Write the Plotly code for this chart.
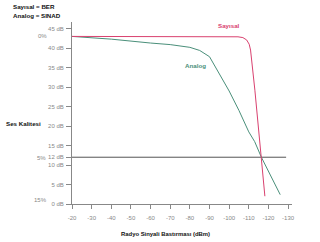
import plotly.graph_objects as go

# Data
x_ticks = [-20, -30, -40, -50, -60, -70, -80, -90, -100, -110, -120, -130]
x_tick_text = [str(v) for v in x_ticks]
y_ticks = [0, 5, 10, 12, 15, 20, 25, 30, 35, 40, 45]
y_tick_text = [f"{v} dB" for v in y_ticks]

sayisal_x = [-20, -104.5, -107, -108.9, -110.2, -110.9, -113.1, -116.4, -118.2]
sayisal_y = [43, 42.9, 42.7, 42.1, 41.0, 39.5, 29.2, 12, 2.0]

analog_x = [-20, -40, -60, -70, -80, -85, -90, -95, -100, -105, -110, -113, -116.4, -126]
analog_y = [43, 42.3, 41.3, 40.9, 40.2, 39.4, 37.8, 33.5, 29.0, 24.0, 18.5, 16.0, 12, 2.4]

ref_x = [-20, -129]
ref_y = [12, 12]

RED = "#d9416f"
GREEN = "#4a8f7a"
FONT = "Liberation Sans"

fig = go.Figure()
fig.add_trace(go.Scatter(x=ref_x, y=ref_y, mode="lines",
                         line=dict(color="#555555", width=1), hoverinfo="skip"))
fig.add_trace(go.Scatter(x=analog_x, y=analog_y, mode="lines",
                         line=dict(color=GREEN, width=1)))
fig.add_trace(go.Scatter(x=sayisal_x, y=sayisal_y, mode="lines",
                         line=dict(color=RED, width=1)))

W, H = 320, 242
ML, MR, MT, MB = 72, 28, 22, 38

fig.update_layout(
    width=W, height=H,
    margin=dict(l=ML, r=MR, t=MT, b=MB, pad=0),
    paper_bgcolor="white", plot_bgcolor="white",
    showlegend=False,
    font=dict(family=FONT, size=6, color="#777777"),
    xaxis=dict(range=[-20, -132], tickmode="array", tickvals=x_ticks,
               ticktext=x_tick_text,
               showgrid=False, zeroline=False, showline=True,
               linecolor="#888888", linewidth=1,
               ticks="outside", ticklen=4, tickcolor="#888888",
               ticklabelstandoff=4,
               tickfont=dict(size=6, color="#888888")),
    yaxis=dict(range=[0, 46.7], tickmode="array", tickvals=y_ticks,
               ticktext=y_tick_text,
               showgrid=False, zeroline=False, showline=True,
               linecolor="#888888", linewidth=1,
               ticks="outside", ticklen=5, tickcolor="#888888",
               ticklabelstandoff=1,
               tickfont=dict(size=6, color="#888888")),
)

def px_to_paper(px, py):
    return (px - ML) / (W - ML - MR), 1 - (py - MT) / (H - MT - MB)

def add_paper_text(text, px, py, color="#333333", size=6, bold=False, xanchor="center"):
    xp, yp = px_to_paper(px, py)
    t = f"<b>{text}</b>" if bold else text
    fig.add_annotation(x=xp, y=yp, xref="paper", yref="paper", text=t,
                       showarrow=False, xanchor=xanchor, yanchor="middle",
                       font=dict(family=FONT, size=size, color=color))

add_paper_text("Sayısal = BER", 11, 6, color="#111111", size=6.2, bold=True, xanchor="left")
add_paper_text("Analog = SINAD", 11, 16, color="#111111", size=6.2, bold=True, xanchor="left")
add_paper_text("0%", 42, 36, color="#888888", size=6)
add_paper_text("5%", 41, 158, color="#888888", size=6)
add_paper_text("15%", 40, 200, color="#888888", size=6)
add_paper_text("Ses Kalitesi", 23, 123, color="#111111", size=6.2, bold=True)
add_paper_text("Radyo Sinyali Bastırması (dBm)", 165, 234, color="#111111", size=5.9, bold=True)

fig.add_annotation(x=-99.8, y=45.7, text="<b>Sayısal</b>", showarrow=False,
                   font=dict(family=FONT, size=6.2, color=RED))
fig.add_annotation(x=-82.9, y=35.5, text="<b>Analog</b>", showarrow=False,
                   font=dict(family=FONT, size=6.2, color=GREEN))

fig.write_html("out.html")
